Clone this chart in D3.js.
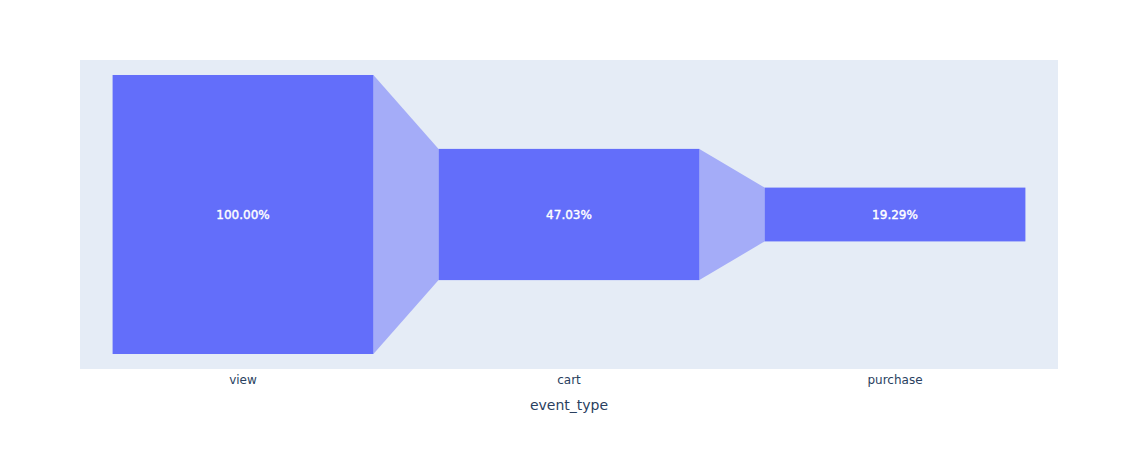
<!DOCTYPE html>
<html>
<head>
<meta charset="utf-8">
<script src="https://cdn.jsdelivr.net/npm/d3@7"></script>
<style>
  body { margin: 0; background: #fff; }
  text { font-family: "DejaVu Sans", verdana, arial, sans-serif; }
</style>
</head>
<body>
<div id="chart"></div>
<script>
// funnel stages and percent of initial
var stages = ["view", "cart", "purchase"];
var values = [100, 47.03, 19.29];
var labels = ["100.00%", "47.03%", "19.29%"];

var width = 1138;
var height = 450;
var plot = { left: 80, top: 60, right: 1058, bottom: 369 };

var svg = d3.select("#chart")
    .append("svg")
    .attr("width", width)
    .attr("height", height);

// plot background
svg.append("rect")
    .attr("x", plot.left)
    .attr("y", plot.top)
    .attr("width", plot.right - plot.left)
    .attr("height", plot.bottom - plot.top)
    .attr("fill", "#e5ecf6");

var xScale = d3.scaleBand()
    .domain(stages)
    .range([plot.left, plot.right])
    .paddingInner(0.2)
    .paddingOuter(0.1);

// value axis is symmetric around the middle of the plot
var half = d3.max(values) / 2 * 1.1075;
var yScale = d3.scaleLinear()
    .domain([-half, half])
    .range([plot.bottom, plot.top]);

// connectors between bars
var pairs = d3.pairs(values.map(function(v, i) { return { stage: stages[i], v: v }; }));
svg.selectAll(".connector")
    .data(pairs)
    .enter()
    .append("path")
    .attr("class", "connector")
    .attr("fill", "#a4acf8")
    .attr("d", function(p) {
        var x0 = xScale(p[0].stage) + xScale.bandwidth();
        var x1 = xScale(p[1].stage);
        return "M" + x0 + "," + yScale(p[0].v / 2) +
            "L" + x1 + "," + yScale(p[1].v / 2) +
            "L" + x1 + "," + yScale(-p[1].v / 2) +
            "L" + x0 + "," + yScale(-p[0].v / 2) + "Z";
    });

// bars
svg.selectAll(".bar")
    .data(values)
    .enter()
    .append("rect")
    .attr("class", "bar")
    .attr("x", function(d, i) { return xScale(stages[i]); })
    .attr("y", function(d) { return yScale(d / 2); })
    .attr("width", xScale.bandwidth())
    .attr("height", function(d) { return yScale(-d / 2) - yScale(d / 2); })
    .attr("fill", "#636efa");

// labels inside bars
svg.selectAll(".barText")
    .data(values)
    .enter()
    .append("text")
    .attr("class", "barText")
    .attr("x", function(d, i) { return xScale(stages[i]) + xScale.bandwidth() / 2; })
    .attr("y", yScale(0))
    .attr("dy", "0.35em")
    .attr("text-anchor", "middle")
    .attr("font-size", 12)
    .attr("fill", "#fff")
    .attr("stroke", "#fff")
    .attr("stroke-width", 0.4)
    .text(function(d, i) { return labels[i]; });

// x axis
var xAxis = d3.axisBottom(xScale).tickSize(0).tickPadding(6);
var gx = svg.append("g")
    .attr("transform", "translate(0," + plot.bottom + ")")
    .call(xAxis);
gx.select(".domain").remove();
gx.selectAll("text")
    .attr("font-size", 12)
    .attr("fill", "#2a3f5f")
    .style("font-family", '"DejaVu Sans", verdana, arial, sans-serif');

svg.append("text")
    .attr("x", (plot.left + plot.right) / 2)
    .attr("y", 410)
    .attr("text-anchor", "middle")
    .attr("font-size", 14)
    .attr("fill", "#2a3f5f")
    .text("event_type");
</script>
</body>
</html>
